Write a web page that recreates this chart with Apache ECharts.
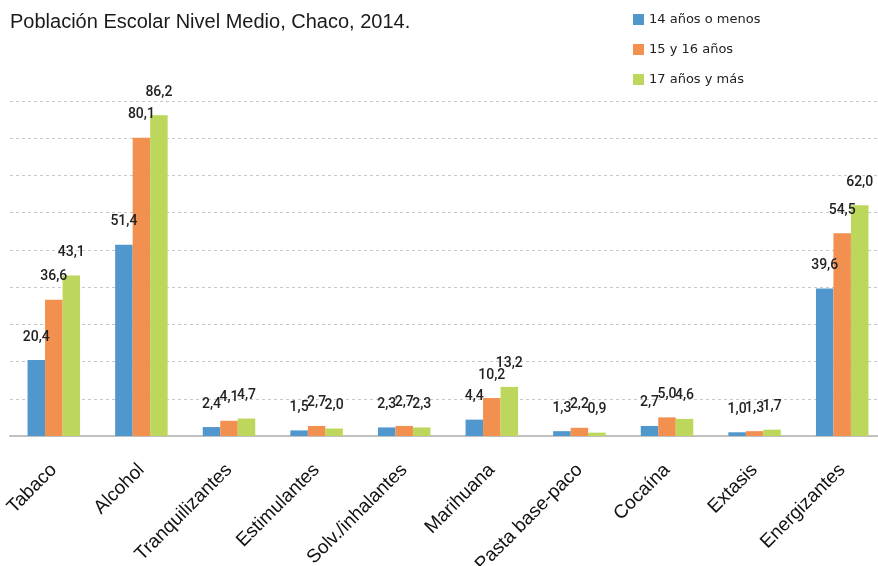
<!DOCTYPE html>
<html><head><meta charset="utf-8">
<script src="https://cdn.jsdelivr.net/npm/echarts@6/dist/echarts.min.js"></script>
<style>html,body{margin:0;padding:0;background:#fff;overflow:hidden;width:878px;height:566px}#c{width:890px;height:566px}</style>
</head><body><div id="c"></div>
<script>
var categories = ['Tabaco','Alcohol','Tranquilizantes','Estimulantes','Solv./inhalantes','Marihuana','Pasta base-paco','Cocaína','Extasis','Energizantes'];
var seriesNames = ['14 años o menos','15 y 16 años','17 años y más'];
var s14 = [20.4, 51.4, 2.4, 1.5, 2.3, 4.4, 1.3, 2.7, 1.0, 39.6];
var s1516 = [36.6, 80.1, 4.1, 2.7, 2.7, 10.2, 2.2, 5.0, 1.3, 54.5];
var s17 = [43.1, 86.2, 4.7, 2.0, 2.3, 13.2, 0.9, 4.6, 1.7, 62.0];
var colors = ['#4f97cc','#f2904f','#bdd65c'];

var chart = echarts.init(document.getElementById('c'), null, {renderer:'canvas'});
function mk(name, data, color){
  return {
    name: name, type: 'bar', data: data, barWidth: 17.5, barGap: '0%',
    itemStyle: {color: color},
    label: {show: true, position: 'top', distance: 16, offset: [-3, 0],
      fontFamily: 'Roboto', fontSize: 14, fontWeight: 500, color: '#222',
      formatter: function(p){ return p.value.toFixed(1).replace('.', ','); }},
    labelLayout: {moveOverlap: 'shiftY'}
  };
}
chart.setOption({
  animation: false,
  title: {text: 'Población Escolar Nivel Medio, Chaco, 2014.', left: 5, top: 7,
    textStyle: {fontFamily: 'Liberation Sans', fontSize: 20, fontWeight: 'normal', color: '#1a1a1a'}},
  legend: {orient: 'vertical', left: 628, top: 8, itemWidth: 11, itemHeight: 11, itemGap: 17,
    icon: 'rect', data: seriesNames,
    textStyle: {fontFamily: 'DejaVu Sans', fontSize: 13, color: '#222'}},
  grid: {left: 10, width: 876, top: 101, bottom: 130, containLabel: false, outerBoundsMode: 'none'},
  xAxis: {type: 'category', data: categories,
    axisLine: {lineStyle: {color: '#c0c0c0', width: 2}},
    axisTick: {show: false},
    axisLabel: {rotate: 45, margin: 31, interval: 0, fontFamily: 'Liberation Sans', fontSize: 19, color: '#111'}},
  yAxis: {type: 'value', min: 0, max: 90, interval: 10,
    axisLine: {show: false}, axisTick: {show: false}, axisLabel: {show: false},
    splitLine: {lineStyle: {color: '#c8c8c8', type: [3, 3], width: 1}}},
  series: [mk(seriesNames[0], s14, colors[0]), mk(seriesNames[1], s1516, colors[1]), mk(seriesNames[2], s17, colors[2])]
});
</script></body></html>
